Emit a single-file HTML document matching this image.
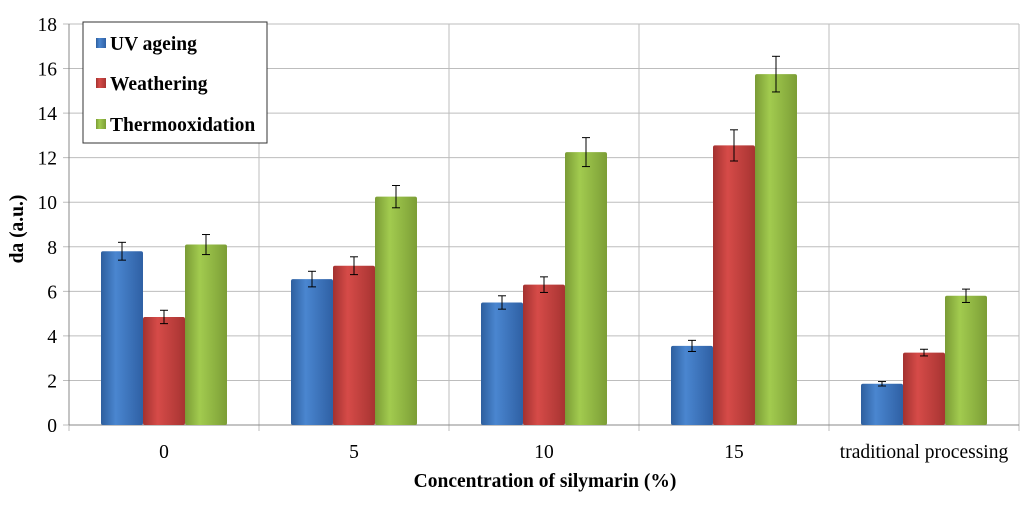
<!DOCTYPE html>
<html><head><meta charset="utf-8"><style>
body{margin:0;background:#fff;}
svg text{font-family:"Liberation Serif",serif;}
</style></head><body>
<svg id="c" width="1024" height="504" xmlns="http://www.w3.org/2000/svg">
<defs>
<linearGradient id="gb" x1="0" x2="1"><stop offset="0" stop-color="#2e5f9e"/><stop offset="0.35" stop-color="#4a86d0"/><stop offset="1" stop-color="#2f60a4"/></linearGradient>
<linearGradient id="gr" x1="0" x2="1"><stop offset="0" stop-color="#a33230"/><stop offset="0.35" stop-color="#d64b48"/><stop offset="1" stop-color="#a73432"/></linearGradient>
<linearGradient id="gg" x1="0" x2="1"><stop offset="0" stop-color="#7a9b35"/><stop offset="0.35" stop-color="#a2cb4f"/><stop offset="1" stop-color="#7c9e36"/></linearGradient>
</defs>
<g id="grid"></g><g id="bars"></g><g id="labels"></g>
<text x="23" y="229" transform="rotate(-90 23 229)" text-anchor="middle" font-size="19.5" font-weight="bold">da (a.u.)</text>
<text x="545" y="487" text-anchor="middle" font-size="19.5" font-weight="bold">Concentration of silymarin (%)</text>
<g>
<rect x="83" y="22" width="184" height="121" fill="#fff" stroke="#333" stroke-width="1"/>
<g><rect x="96" y="38" width="10" height="10" fill="url(#gb)"/><text x="110" y="50" font-size="19.5" font-weight="bold">UV ageing</text></g>
<g><rect x="96" y="78" width="10" height="10" fill="url(#gr)"/><text x="110" y="90" font-size="19.5" font-weight="bold">Weathering</text></g>
<g><rect x="96" y="119" width="10" height="10" fill="url(#gg)"/><text x="110" y="131" font-size="19.5" font-weight="bold">Thermooxidation</text></g>
</g>
</svg>
<script>
const categories=["0","5","10","15","traditional processing"];
const uv=[7.8,6.55,5.5,3.55,1.85];
const weathering=[4.85,7.15,6.3,12.55,3.25];
const thermo=[8.1,10.25,12.25,15.75,5.8];
const uvErr=[0.4,0.35,0.3,0.25,0.1];
const weatheringErr=[0.3,0.4,0.35,0.7,0.15];
const thermoErr=[0.45,0.5,0.65,0.8,0.3];
const yTicks=[0,2,4,6,8,10,12,14,16,18];
const NS="http://www.w3.org/2000/svg";
const L=69,R=1019,Y0=425,Y1=24,YMAX=18;
const y=v=>Y0-(v/YMAX)*(Y0-Y1);
const gw=(R-L)/categories.length;
const x=i=>L+gw*i;
function mk(t,a,p){const e=document.createElementNS(NS,t);for(const k in a)e.setAttribute(k,a[k]);p.appendChild(e);return e;}
const grid=document.getElementById('grid'),bars=document.getElementById('bars'),lab=document.getElementById('labels');
yTicks.forEach(t=>{
 const l=mk('line',{x1:L-6,x2:R,y1:y(t),y2:y(t),stroke:'#bdbdbd','stroke-width':1},grid);
 
 
 const tx=mk('text',{x:L-12,y:y(t)+7,'text-anchor':'end','font-size':19.5},lab);tx.textContent=t;
 
 
});
for(let i=0;i<=categories.length;i++){
 const l=mk('line',{x1:x(i),x2:x(i),y1:Y1,y2:Y0+6,stroke:'#bdbdbd','stroke-width':1},grid);
 
 
}
mk('line',{x1:L,x2:L,y1:Y1,y2:Y0,stroke:'#888'},grid);
mk('line',{x1:L,x2:R,y1:Y0,y2:Y0,stroke:'#888'},grid);
const series=[[uv,uvErr,'url(#gb)','uv'],[weathering,weatheringErr,'url(#gr)','weathering'],[thermo,thermoErr,'url(#gg)','thermo']];
const bw=42;
categories.forEach((c,i)=>{
 const cx=x(i)+gw/2;
 series.forEach((s,j)=>{
  const bx=cx-1.5*bw+j*bw,v=s[0][i],e=s[1][i];
  const r=mk('rect',{x:bx,y:y(v),width:bw,height:Y0-y(v),fill:s[2],rx:2},bars);
  
  
  const m=bx+bw/2;
  const g=mk('g',{stroke:'#000','stroke-width':1},bars);
  
  
  mk('line',{x1:m,x2:m,y1:y(v+e),y2:y(v-e)},g);
  mk('line',{x1:m-4,x2:m+4,y1:y(v+e),y2:y(v+e)},g);
  mk('line',{x1:m-4,x2:m+4,y1:y(v-e),y2:y(v-e)},g);
 });
 const t=mk('text',{x:cx,y:458,'text-anchor':'middle','font-size':19.5},lab);t.textContent=c;
 
 
});
</script>
</body></html>
